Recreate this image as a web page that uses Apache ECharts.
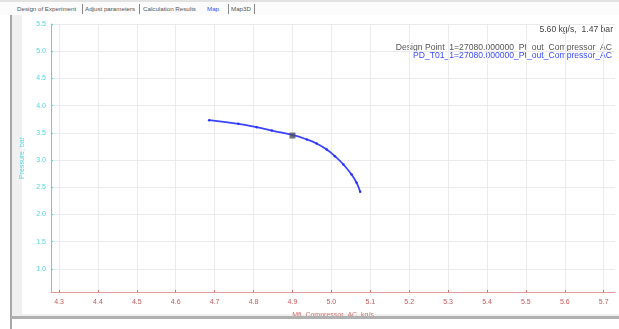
<!DOCTYPE html>
<html><head><meta charset="utf-8">
<script src="https://cdn.jsdelivr.net/npm/echarts@6/dist/echarts.min.js"></script>
<style>
html,body{margin:0;padding:0;background:#fff;width:619px;height:329px;overflow:hidden;font-family:"Liberation Sans",Arial,sans-serif;}
.abs{position:absolute;}
#tabs{left:0;top:0;width:619px;height:15px;background:#fbfbfb;border-top:2px solid #e2e2e2;box-sizing:border-box;}
.tab{position:absolute;top:3px;font-size:6.2px;color:#555;white-space:nowrap;}
.sep{position:absolute;top:2px;width:1px;height:10px;background:#888;}
#chart{left:0;top:0;width:619px;height:329px;}
</style></head>
<body>
<div class="abs" style="left:12px;top:15px;width:607px;height:303px;background:#f0f0f0;"></div>
<div class="abs" style="left:22px;top:15px;width:597px;height:299px;background:#fff;"></div>
<div id="chart" class="abs"></div>
<div id="tabs" class="abs">
  <span class="tab" style="left:17px">Design of Experiment</span><span class="sep" style="left:82px"></span>
  <span class="tab" style="left:85px">Adjust parameters</span><span class="sep" style="left:139px"></span>
  <span class="tab" style="left:143px">Calculation Results</span>
  <span class="tab" style="left:207px;color:#3050ff">Map</span><span class="sep" style="left:228px"></span>
  <span class="tab" style="left:231px">Map3D</span><span class="sep" style="left:254px"></span>
</div>
<div class="abs" style="left:10px;top:15px;width:2px;height:314px;background:#a8a8a8;"></div>
<div class="abs" style="left:11px;top:316px;width:608px;height:3px;background:#b0b0b0;"></div>
<div class="abs" style="left:12px;top:319px;width:607px;height:10px;background:#fff;"></div>
<script>
const xTicks = [4.3,4.4,4.5,4.6,4.7,4.8,4.9,5.0,5.1,5.2,5.3,5.4,5.5,5.6,5.7];
const yTicks = [1.0,1.5,2.0,2.5,3.0,3.5,4.0,4.5,5.0,5.5];
const curveX = [4.686,4.761,4.808,4.847,4.902,4.937,4.962,4.988,5.009,5.031,5.052,5.065,5.074];
const curveY = [3.732,3.665,3.603,3.542,3.456,3.377,3.303,3.193,3.070,2.917,2.732,2.581,2.416];
const designX = [4.90];
const designY = [3.45];
const readout = "5.60 kg/s,  1.47 bar";
const legend1 = "Design Point_1=27080.000000_Pt_out_Compressor_AC";
const legend2 = "PD_T01_1=27080.000000_Pt_out_Compressor_AC";
const xName = "Mfl_Compressor_AC, kg/s";
const yName = "Pressure, bar";

const chart = echarts.init(document.getElementById('chart'));
const cyan = '#4fd6df', red = '#d86a6a';
const f = '8.6px "Liberation Sans", Arial';
chart.setOption({
  animation:false,
  backgroundColor:'transparent',
  grid:{left:51, top:24, width:564, height:268, containLabel:false},
  xAxis:{type:'value', min:4.2794, max:5.729,
    name:xName, nameLocation:'middle', nameGap:20,
    nameTextStyle:{color:'#d07070', fontSize:7},
    axisLine:{show:true, onZero:false, lineStyle:{color:'#e59a9a', width:1}},
    axisTick:{show:true, inside:true, length:2, customValues:xTicks, lineStyle:{color:red}},
    axisLabel:{customValues:xTicks, color:'#c85858', fontSize:7, margin:7, formatter:v=>v.toFixed(1)},
    splitLine:{show:true, lineStyle:{color:'#ebebeb', width:1}}
  },
  yAxis:{type:'value', min:0.5735, max:5.5,
    name:yName, nameLocation:'middle', nameGap:20,
    nameTextStyle:{color:cyan, fontSize:7},
    axisLine:{show:true, onZero:false, lineStyle:{color:cyan, width:1}},
    axisTick:{show:true, inside:true, length:2, customValues:yTicks, lineStyle:{color:cyan}},
    axisLabel:{customValues:yTicks, color:cyan, fontSize:7, margin:5, formatter:v=>v.toFixed(1)},
    splitLine:{show:true, lineStyle:{color:'#ebebeb', width:1}}
  },
  graphic:[
    {type:'text', right:6, top:25, style:{text:readout, font:f, fill:'#444', textAlign:'right'}},
    {type:'text', right:7, top:43, style:{text:legend1, font:f, fill:'#555', textAlign:'right'}},
    {type:'text', right:7, top:51, style:{text:legend2, font:f, fill:'#3a4cff', textAlign:'right'}}
  ],
  series:[
    {type:'line', data:curveX.map((x,i)=>[x,curveY[i]]), smooth:true,
     lineStyle:{color:'#3a44ff', width:1.8}, symbol:'circle', symbolSize:2.5,
     itemStyle:{color:'#2a34f0'}, showSymbol:true, z:2},
    {type:'scatter', data:designX.map((x,i)=>[x,designY[i]]), symbol:'rect', symbolSize:6,
     itemStyle:{color:'#505060'}, z:3}
  ]
});
</script>
</body></html>
